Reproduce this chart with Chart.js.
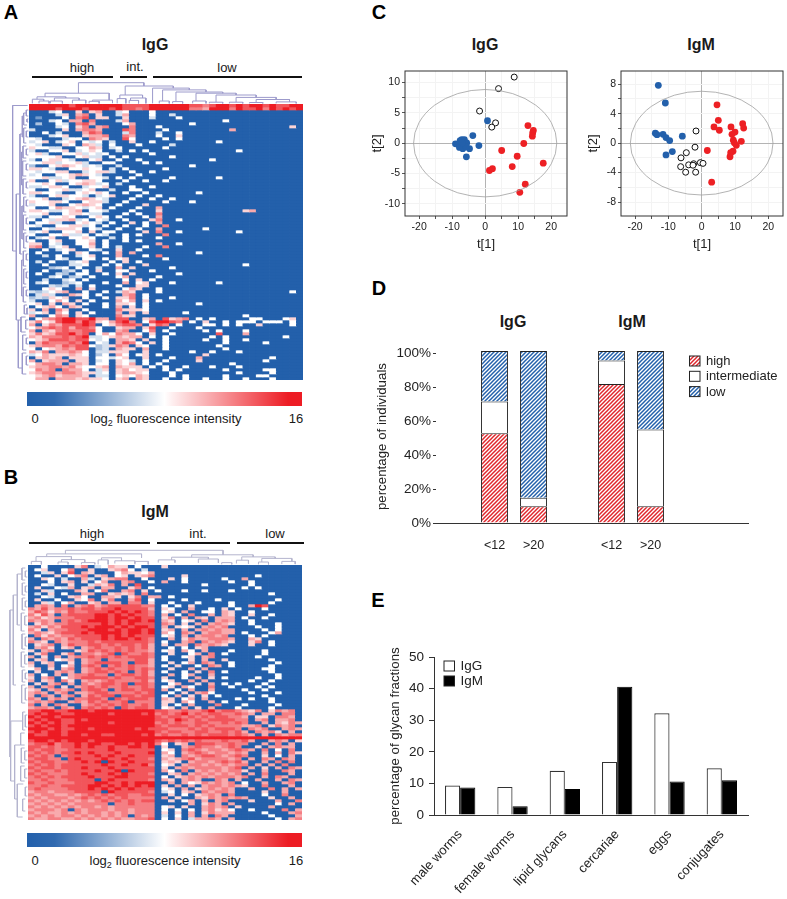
<!DOCTYPE html>
<html>
<head>
<meta charset="utf-8">
<script src="https://cdn.jsdelivr.net/npm/chart.js@4/dist/chart.umd.min.js"></script>
<style>
  html, body { margin: 0; background: #fff; }
  #page { position: relative; width: 787px; height: 899px; overflow: hidden; font-family: "Liberation Sans", Arial, sans-serif; color: #1a1a1a; }
  canvas { position: absolute; }
  .t { position: absolute; transform: translate(-50%, -50%); white-space: nowrap; font-size: 13px; }
  .title { font-size: 16px; font-weight: bold; }
  .letter { font-size: 20px; font-weight: bold; color: #000; }
  .rule { position: absolute; height: 1.5px; background: #111; }
  sub { font-size: 9px; line-height: 0; }
</style>
</head>
<body>
<div id="page">
  <div class="t letter" style="left:11px;top:12px">A</div>
  <div class="t letter" style="left:11px;top:477px">B</div>
  <div class="t letter" style="left:379px;top:12px">C</div>
  <div class="t letter" style="left:379px;top:288px">D</div>
  <div class="t letter" style="left:378px;top:600px">E</div>

  <div class="t title" style="left:155px;top:45px">IgG</div>
  <div class="t" style="left:82px;top:67px">high</div>
  <div class="t" style="left:135px;top:66px">int.</div>
  <div class="t" style="left:227px;top:67px">low</div>
  <div class="rule" style="left:32px;top:76px;width:81px"></div>
  <div class="rule" style="left:120px;top:76px;width:27px"></div>
  <div class="rule" style="left:153px;top:76px;width:149px"></div>
  <div class="t" style="left:35px;top:418px">0</div>
  <div class="t" style="left:166px;top:418px">log<sub>2</sub> fluorescence intensity</div>
  <div class="t" style="left:296px;top:418px">16</div>

  <div class="t title" style="left:155px;top:512px">IgM</div>
  <div class="t" style="left:92px;top:533px">high</div>
  <div class="t" style="left:198px;top:533px">int.</div>
  <div class="t" style="left:275px;top:533px">low</div>
  <div class="rule" style="left:29px;top:542px;width:121px"></div>
  <div class="rule" style="left:157px;top:542px;width:73px"></div>
  <div class="rule" style="left:237px;top:542px;width:67px"></div>
  <div class="t" style="left:35px;top:860px">0</div>
  <div class="t" style="left:165px;top:860px">log<sub>2</sub> fluorescence intensity</div>
  <div class="t" style="left:296px;top:860px">16</div>

  <div class="t title" style="left:485px;top:45px">IgG</div>
  <div class="t title" style="left:701px;top:45px">IgM</div>
  <div class="t title" style="left:513px;top:322px">IgG</div>
  <div class="t title" style="left:632px;top:322px">IgM</div>
</div>
<script>
// heatmap cells, one string per row, digit = level index, missing trailing cells are level 0
const heatLevels = [0, 3, 5, 6.5, 8, 9.5, 11, 12.5, 14, 16];

const igGRows = [
  '99999989999999888899999988789989899898899',
  '99998999899989887899999977699979889798989',
  '0003400505600340004',
  '0000350670500360004003',
  '0100040780550050003000400',
  '0003406607000360000000000000040',
  '0200430786000046000000004',
  '0000340570670007000400000000000000000005',
  '3000050677600087000040000000006',
  '0040300068700037000300400',
  '0003450056670076000400500',
  '4300034407650084000040400',
  '3450345043403005004000000000400',
  '4300054065304000400003',
  '5443300446503400000040',
  '3004450345400304040000000000000400',
  '4530044534340000004000',
  '4444500453304040000004',
  '3045543004500400400000000004',
  '4455344530044000040400',
  '2004565434300300000000004',
  '5543004454403040000040',
  '4344550034553004004000',
  '3400445654300000400000',
  '4453345004430404000004000000400',
  '5004534455400040040040',
  '4454004565340300000000',
  '3345540034450004004000',
  '4004453345003004400000',
  '5544300454540040040000000400',
  '3004554430345000400400',
  '4450034565430004004004',
  '5445540045530040000040004',
  '3445004565400400050000',
  '4004655434504000400600',
  '5543345604430004000500000000000056',
  '4450045543300040400700',
  '3304454004540400040600',
  '4043556340430040005700400',
  '0445300454304005040600',
  '4300445534040040040070',
  '0043555404300400400600000040',
  '3450044505044000050700400000000400',
  '4004453340430040400070',
  '0345004454003040000400',
  '4004500445040040400000',
  '5504300446040000000600400',
  '6703450045040300040070',
  '0040345004300500400000',
  '0400040540040606000000000400',
  '0030400345000600040700',
  '0000430044040450000040',
  '0304003450004050400',
  '0040003340040400050000000000000040',
  '0002340400300605000004',
  '0040023040500440004',
  '0400320440040505000000400',
  '0003402304000460000400',
  '0030034040000040504',
  '0340023400040060450004000000400',
  '0003230304000400550',
  '0045400605000046500400',
  '3234560040040365000400000000000000000004',
  '0353006540400067040000',
  '2325450040040557040004',
  '3004640504000646050400',
  '4505065040040554040000000400',
  '0456406500040605040',
  '5060750040000755540',
  '3450640504000606050000040',
  '6004760540000755000000000000000040',
  '0467899889660880056085670404000004400045',
  '5745899798546897048998704050040444044404',
  '6057688898045788705870400044040400500004',
  '4678786887400566058004000400000000000000',
  '6065787788400670047040000040400040000000',
  '5756889780464766405004000000800060000000',
  '6577787893345656604040000004040000000040',
  '4568887884340665050040000040040040000000',
  '0687778790430687405040000000040000040',
  '5677687884235760540040000000400000',
  '4045676880230655060040000000040',
  '6570667640335550050000004004000400',
  '3465556540240640450400000050000000',
  '0565605550443450050004000600000000004',
  '6056660550340543040040000500000000040',
  '4677606650440546040400000000004',
  '5667767544560655504040040004000400000',
  '4767076640350564550040400000040000044',
  '5677677655340566540004000000000400004',
  '4567566650330454650004040000040000440',
  '4660666565540560650040040040040040004'
];

const igMRows = [
  '00400005703465504000500',
  '04500470050056740300000000000000000',
  '00350580650004655460000000000000000000',
  '04005046705604505670000500000000004',
  '00540300630567700400050400000400600',
  '00040560504600670040600400000040040000',
  '00430050036570608000000000400000040000',
  '05004360560660057040000000000000404',
  '00530006504700670504000400400040000',
  '03050400660056560700000000000000000040',
  '00430056400665057066040000000000000',
  '05004005470570068040000400004000000004',
  '00530460056066077050040004000040000040',
  '06760706786788888770404050000040069800',
  '76867787887889888860540060040504000400',
  '68757687788898989870450600440650040000',
  '75860788889989898870604070060650050040',
  '67567778889989989880570606506660400400',
  '76760787899989899890650450706760040000',
  '05767788888989898880760506067650040004',
  '67576888989998989980605450676700004004',
  '75067788899989899890560606767660000404',
  '67657888989999899890640760677660400046',
  '07576778888989898880450606776700040400',
  '60767687888989989870060576677760065000',
  '76507677787888888870400670767650057040',
  '05670687788787887860506607676500050040',
  '06750560678778787860040405600000000000',
  '50670005687878787760450640600040000400',
  '05700570776780877870050046070400000400',
  '60506067787878788870400450670000004000',
  '05604560677077778860400050600500000040',
  '60560050678888708860050460760040000004',
  '50060460787078787760405004076040000040',
  '46050670678787787870050060600000000440',
  '05006760678878707860400405070400000040',
  '60406067787707887860060460060000000004',
  '50670467888878778870500406050400004004',
  '60560750676787777860450060600000040040',
  '05067060767887808870046005060404000400',
  '60670506787877877870450640070040004040',
  '56067670788707887880604060060000400400',
  '67606706678877778780040506740000040004',
  '60760670687880887880406050504000000400',
  '76067607788708788870650460600004040040',
  '67670067687877807770550640060400000040',
  '70607600678787877870504060007000400004',
  '67760760787870878870450605060004000040',
  '88998899989999999998877877897887657057670',
  '89899889999989999897878978788778760660770',
  '98998999999999999998788787878877605507760',
  '89899889899999999998879878788887706706670',
  '98989889999989999997878778877878700606576',
  '89899899999999999998788878787777667057670',
  '99989889989999998988877787878887076700676',
  '89899899999999999998788778877878607675060',
  '98899899899889999897877878788878760607677',
  '99999999999999999999999999999999999999999',
  '89989899989999999998787878777877860067605',
  '78897889899889989897405608887787700607060',
  '88787889898898899890500678776787005067660',
  '87887788888898888880450787677678760704070',
  '78787889898889888890640678767767600606075',
  '87870788889898898880560767887678700504060',
  '78877089888988988870656786777767060760760',
  '87887788989098898880565067767878600607070',
  '78787888888988988970450677676767706060700',
  '87887888988898888880506767777678060506076',
  '78778788889889098880640706767677500600760',
  '87877788988898988870056067676767060700060',
  '78787888898889988880405676767776700607600',
  '77877788880898888870650676007606006006076',
  '87787778889988989990060645767670400600670',
  '77877888899898989890506060677676500700060',
  '78777788898989898880450605676760060070606',
  '67767778888098888870340560767760000500600',
  '76776676787878877880050405676070000400700',
  '67677767878787877770605006576767600050060',
  '76767676767878787880050460606700050006007',
  '67676767777707787770000060576060000004060',
  '76767676776767777770450500676705000060000',
  '67776707677767767770404040675640040000706',
  '76766767677676767770505060576660000400067',
  '67676776767676707670304060607600000040006',
  '76677667676767667780405036676060000004067'
];

// dendrogram links: from, to, height, height at from, height at to
const igGTopTree = [
  [7.4,17.2,-7.1,-3.6,-6], [2.4,12,-3.6,-2.4,-1.3], [1.2,5.5,-2.4,-1.6,-2],
  [0.5,2.2,-1.6,-0.2,-1], [1.5,3,-1,-0.2,-0.2], [3.8,7.5,-2,-1,-1.3], [3.2,5,-1,-0.2,-0.2],
  [6.5,8.5,-1.3,-0.2,-0.2], [9.5,12.5,-1.3,-0.9,-0.3], [9,10.5,-0.9,-0.2,-0.2],
  [14.4,21.6,-6,-3,-5.3], [13.6,17,-3,-1.8,-2], [13.2,14.5,-1.8,-0.2,-0.2],
  [15.2,17.5,-2,-1.2,-0.2], [15,16.4,-1.2,-0.2,-0.2], [18.5,24,-5.3,-0.2,-4.7],
  [20,26.5,-4.7,-1,-4], [19.5,21,-1,-0.2,-0.2], [22,29,-4,-0.8,-3.6],
  [21.5,23,-0.8,-0.2,-0.2], [25,31,-3.6,-1,-3], [24.5,26.5,-1,-0.2,-0.2],
  [28,34,-3,-0.6,-2.2], [27,29,-0.6,-0.2,-0.2], [31,37,-2.2,-0.6,-1.5],
  [30,32,-0.6,-0.2,-0.2], [34,39,-1.5,-0.5,-0.7], [33,35,-0.5,-0.2,-0.2], [37,40,-0.7,-0.2,-0.2]
];
const igGLeftTree = [
  [0.5,49,-2.45,-0.2,-1.9], [30,72,-1.9,-1.35,-1.6], [10,50,-1.35,-0.8,-1],
  [3,7,-0.8,-0.3,-0.3], [8,13,-0.8,-0.4,-0.4], [14,18,-0.9,-0.4,-0.4], [19,24,-0.95,-0.4,-0.4],
  [25,30,-0.9,-0.4,-0.4], [31,36,-0.8,-0.4,-0.4], [37,42,-0.85,-0.4,-0.4], [43,48,-0.8,-0.4,-0.4],
  [49,54,-0.85,-0.4,-0.4], [55,60,-0.8,-0.4,-0.4], [61,66,-0.85,-0.4,-0.4], [67,70,-0.7,-0.3,-0.3],
  [72,88,-1.6,-1.2,-1], [71,76,-1.2,-0.5,-0.5], [77,82,-0.95,-0.4,-0.4], [83,90,-1,-0.4,-0.4],
  [4,11,-1,-0.8,-0.8], [16,27,-1.1,-0.9,-0.9], [34,45,-1.05,-0.8,-0.85], [52,64,-1.1,-0.85,-0.85],
  [2,4,-0.4,-0.1,-0.1], [5,6,-0.3,-0.1,-0.1], [9,11,-0.4,-0.1,-0.1], [15,17,-0.4,-0.1,-0.1],
  [20,22,-0.4,-0.1,-0.1], [26,28,-0.4,-0.1,-0.1], [32,34,-0.4,-0.1,-0.1], [38,40,-0.4,-0.1,-0.1],
  [44,46,-0.4,-0.1,-0.1], [50,52,-0.4,-0.1,-0.1], [56,58,-0.4,-0.1,-0.1], [62,64,-0.4,-0.1,-0.1],
  [68,70,-0.3,-0.1,-0.1], [72,75,-0.5,-0.1,-0.1], [78,80,-0.4,-0.1,-0.1], [84,87,-0.4,-0.1,-0.1]
];
const igMTopTree = [
  [5.6,29.2,-4.9,-3.7,-3.4], [2.8,17,-3.7,-2.8,-2.4], [1.2,6.5,-2.8,-1.2,-1.8],
  [0.5,2,-1.2,-0.2,-0.2], [5,8.5,-1.8,-1,-0.8], [4.5,6,-1,-0.2,-0.2], [8,10,-0.8,-0.2,-0.2],
  [11,14,-2.4,-1.7,-1.4], [10.5,12,-1.7,-0.2,-0.2], [13,16,-1.4,-0.5,-0.5], [16,18,-1.2,-0.2,-0.2],
  [24.5,33.7,-3.4,-2.6,-2.7], [21.5,27,-2.6,-1.7,-2], [19.5,22,-1.7,-0.8,-0.8],
  [25.5,28.5,-2,-0.7,-0.7], [29,30.5,-0.8,-0.2,-0.2], [32,37,-2.7,-1.6,-2.2],
  [31.2,33,-1.6,-0.5,-0.5], [35,39.5,-2.2,-1,-1.2], [34.5,36,-1,-0.2,-0.2], [38,40,-1.2,-0.3,-0.3]
];
const igMLeftTree = [
  [15,64,-2.7,-2.2,-2.6], [10,40,-2.2,-1.6,-1.8], [3,20,-1.6,-0.9,-1.2],
  [1,5,-0.9,-0.4,-0.4], [6,10,-0.85,-0.4,-0.4], [11,15,-0.85,-0.4,-0.4], [16,22,-1,-0.5,-0.5],
  [23,28,-0.9,-0.4,-0.4], [29,34,-1,-0.5,-0.5], [35,39,-0.85,-0.4,-0.4], [40,46,-0.95,-0.4,-0.4],
  [52,72,-2.6,-0.8,-2], [49,55,-0.8,-0.4,-0.4], [60,78,-2,-1.1,-1.6], [56,60,-1.1,-0.5,-0.5],
  [61,66,-1,-0.5,-0.5], [67,72,-1.1,-0.5,-0.5], [73,84,-1.6,-0.7,-0.8], [78,82,-0.8,-0.4,-0.4],
  [2,4,-0.4,-0.1,-0.1], [7,9,-0.4,-0.1,-0.1], [12,14,-0.4,-0.1,-0.1], [17,20,-0.5,-0.1,-0.1],
  [24,27,-0.4,-0.1,-0.1], [30,33,-0.5,-0.1,-0.1], [36,38,-0.4,-0.1,-0.1], [41,45,-0.4,-0.1,-0.1],
  [50,54,-0.4,-0.1,-0.1], [62,65,-0.5,-0.1,-0.1], [68,71,-0.5,-0.1,-0.1], [74,77,-0.4,-0.1,-0.1]
];

// panel C scores
const igGRedT = [[12.96,2.9],[14.6,2.1],[14.4,1.7],[14.3,1.15],[11.7,-0.05],[5,-1.2],[9.7,-2.15],[8.2,-3.85],[17.6,-3.3],[2.2,-4.2],[1.3,-4.5],[12.15,-6.75],[10.5,-8.1]];
const igGOpenT = [[8.8,10.9],[4.05,9],[-1.7,5.3],[3.15,3.35],[2,2.65]];
const igGBlueT = [[0.7,3.7],[-3.75,1.25],[-1.9,-0.4],[-5.7,-2.25],[-4.75,-0.9],[-9,-0.1],[-8.2,-0.15],[-7.6,0.4],[-7.1,0.6],[-6.3,0.6],[-7.4,-0.4],[-6.8,-0.9],[-6.3,-0.15],[-5.6,0.05],[-7.8,-0.7],[-5.8,-0.6],[-7,0.05]];
const igMRedT = [[4.6,5.2],[5,3.1],[3.7,2.2],[5.3,1.75],[8.8,2.2],[12.3,2.65],[12.6,2.05],[10,1.5],[9.1,1.2],[9.5,0.4],[11.9,0.25],[9.8,0.05],[10.4,-0.3],[1.7,-1],[9.4,-1.1],[8.7,-1.3],[8.5,-1.85],[3,-5.3]];
const igMOpenT = [[-1.7,1.65],[-2,-0.55],[-4.6,-1.3],[-6.2,-2],[-6.3,-3.2],[-3.9,-2.95],[-2.4,-2.8],[-2.6,-3],[-4.8,-3.95],[-1.8,-3.95],[-0.4,-2.65],[0.4,-2.75]];
const igMBlueT = [[-13,7.85],[-10.9,5.45],[-13.9,1.35],[-13.4,1.15],[-11.6,1.2],[-10.7,0.75],[-9.6,0.35],[-5.8,0.95],[-8.8,-1.15],[-10.7,-1.6]];
const igGEllipse = [21.7, 8.85];
const igMEllipse = [21.4, 7.05];

// panel D
const ageLabels = ['', '<12', '>20', '', '<12', '>20', '', ''];
const highShare = [null, 52.9, 9.9, null, 82, 9.9, null, null];
const intermediateShare = [null, 18.8, 5, null, 13.9, 45.3, null, null];
const lowShare = [null, 29.7, 86.5, null, 5.5, 46.2, null, null];

// panel E
const fractionLabels = ['male worms', 'female worms', 'lipid glycans', 'cercariae', 'eggs', 'conjugates'];
const igGFractions = [9.3, 8.9, 14, 16.8, 32.2, 14.8];
const igMFractions = [8.7, 2.8, 8.2, 40.6, 10.6, 11];

const colorbarRange = [16];

const BLUE = [35, 96, 171], RED = [237, 28, 36];
const BLUE_CSS = 'rgb(35,96,171)', RED_CSS = 'rgb(237,32,36)';

Chart.defaults.font.family = '"Liberation Sans", Arial, sans-serif';
Chart.defaults.color = '#222';
Chart.defaults.animation = false;
Chart.defaults.responsive = false;
Chart.defaults.events = [];
Chart.defaults.plugins.legend.display = false;
Chart.defaults.plugins.tooltip.enabled = false;

function addCanvas(left, top, width, height) {
  const c = document.createElement('canvas');
  c.width = width;
  c.height = height;
  c.style.left = left + 'px';
  c.style.top = top + 'px';
  c.style.width = width + 'px';
  c.style.height = height + 'px';
  document.getElementById('page').appendChild(c);
  return c;
}

function heatColor(v) {
  const t = v / 16;
  const from = t < 0.5 ? BLUE : [255, 255, 255];
  const to = t < 0.5 ? [255, 255, 255] : RED;
  const k = t < 0.5 ? t * 2 : (t - 0.5) * 2;
  const c = from.map((a, i) => Math.round(a + (to[i] - a) * k));
  return `rgb(${c[0]},${c[1]},${c[2]})`;
}

function drawHeatmap(rows, left, top, width, height) {
  const nCols = 41;
  const columns = Array.from({ length: nCols }, (_, i) => i);
  const datasets = rows.map(row => ({
    data: columns.map(() => 1),
    backgroundColor: columns.map(i => heatColor(heatLevels[+(row[i] || 0)])),
    borderWidth: 0,
    barPercentage: 1,
    categoryPercentage: 1
  }));
  new Chart(addCanvas(left, top, width, height), {
    type: 'bar',
    data: { labels: columns, datasets },
    options: {
      scales: {
        x: { stacked: true, display: false },
        y: { stacked: true, display: false, reverse: true, min: 0, max: rows.length }
      }
    }
  });
}

function treeSegments(links, swap) {
  const pts = [];
  links.forEach(([a, b, h, ha, hb]) => {
    [[a, ha], [a, h], [b, h], [b, hb]].forEach(([p, q]) => {
      pts.push(swap ? { x: q, y: p } : { x: p, y: q });
    });
    pts.push({ x: NaN, y: NaN });
  });
  return pts;
}

function drawTrees(topTree, leftTree, color, left, top, width, height, heatLeft, heatTop, colW, rowH) {
  new Chart(addCanvas(left, top, width, height), {
    type: 'scatter',
    data: {
      datasets: [treeSegments(topTree, false), treeSegments(leftTree, true)].map(pts => ({
        data: pts,
        showLine: true,
        spanGaps: false,
        pointRadius: 0,
        borderColor: color,
        borderWidth: 1
      }))
    },
    options: {
      scales: {
        x: { type: 'linear', display: false, min: (left - heatLeft) / colW, max: (left + width - heatLeft) / colW },
        y: { type: 'linear', display: false, reverse: true, min: (top - heatTop) / rowH, max: (top + height - heatTop) / rowH }
      }
    }
  });
}

function drawColorbar(left, top, width, height) {
  new Chart(addCanvas(left, top, width, height), {
    type: 'bar',
    data: {
      labels: ['intensity'],
      datasets: [{
        data: colorbarRange,
        barPercentage: 1,
        categoryPercentage: 1,
        backgroundColor(ctx) {
          const area = ctx.chart.chartArea;
          if (!area) return BLUE_CSS;
          const g = ctx.chart.ctx.createLinearGradient(area.left, 0, area.right, 0);
          g.addColorStop(0, heatColor(0));
          g.addColorStop(0.1, heatColor(0.5));
          g.addColorStop(0.5, heatColor(8));
          g.addColorStop(0.53, heatColor(8.6));
          g.addColorStop(0.95, heatColor(16));
          g.addColorStop(1, heatColor(16));
          return g;
        }
      }]
    },
    options: {
      indexAxis: 'y',
      scales: { x: { display: false, min: 0, max: 16 }, y: { display: false } }
    }
  });
}

// ellipse and box round the score plots
const scoreFrame = {
  id: 'scoreFrame',
  afterDatasetsDraw(chart, args, opts) {
    const { ctx, chartArea: a, scales: { x, y } } = chart;
    ctx.save();
    ctx.strokeStyle = '#a0a0a0';
    ctx.lineWidth = 0.8;
    ctx.beginPath();
    ctx.ellipse(x.getPixelForValue(0), y.getPixelForValue(0),
      x.getPixelForValue(opts.radii[0]) - x.getPixelForValue(0),
      y.getPixelForValue(0) - y.getPixelForValue(opts.radii[1]), 0, 0, Math.PI * 2);
    ctx.stroke();
    ctx.strokeStyle = '#333';
    ctx.lineWidth = 1;
    ctx.strokeRect(a.left, a.top, a.right - a.left, a.bottom - a.top);
    ctx.restore();
  }
};

function scoreDataset(points, fill, line, radius) {
  return {
    data: points.map(([x, y]) => ({ x, y })),
    backgroundColor: fill,
    borderColor: line,
    borderWidth: line === fill ? 0 : 1,
    pointRadius: radius
  };
}

function drawScores(left, red, open, blue, radii, xRange, yRange, yStep, yLabelStep, plotLeft) {
  const width = 205, height = 192;
  const grid = {
    color: c => (c.tick && c.tick.value === 0 ? '#b4b4b4' : '#f3f3f3'),
    tickColor: '#555',
    tickLength: 3,
    lineWidth: 1
  };
  new Chart(addCanvas(left, 60, width, height), {
    type: 'scatter',
    plugins: [scoreFrame],
    data: {
      datasets: [
        scoreDataset(open, '#fff', '#111', 3),
        scoreDataset(blue, BLUE_CSS, BLUE_CSS, 3.4),
        scoreDataset(red, RED_CSS, RED_CSS, 3.4)
      ]
    },
    options: {
      layout: { padding: { top: 11, right: width - plotLeft - 162 } },
      plugins: { scoreFrame: { radii } },
      scales: {
        x: {
          min: xRange[0], max: xRange[1],
          grid,
          border: { display: false },
          afterFit(s) { s.height = 36; },
          ticks: { stepSize: 5, maxRotation: 0, autoSkip: false, includeBounds: false, padding: 2, font: { size: 10.5 },
            callback: v => (v % 10 === 0 ? v : '') },
          title: { display: true, text: 't[1]', font: { size: 13 }, padding: { top: 0, bottom: 0 } }
        },
        y: {
          min: yRange[0], max: yRange[1],
          grid,
          border: { display: false },
          afterFit(s) { s.width = plotLeft; },
          ticks: { stepSize: yStep, autoSkip: false, includeBounds: false, padding: 2, font: { size: 10.5 },
            callback: v => (v % yLabelStep === 0 ? v : '') },
          title: { display: true, text: 't[2]', font: { size: 13 }, padding: { top: 0, bottom: 0 } }
        }
      }
    }
  });
}

function hatch(color) {
  const tile = document.createElement('canvas');
  tile.width = tile.height = 4;
  const g = tile.getContext('2d');
  g.fillStyle = '#fff';
  g.fillRect(0, 0, 4, 4);
  g.strokeStyle = color;
  g.lineWidth = 1.5;
  [[-1, 1, 1, -1], [0, 4, 4, 0], [3, 5, 5, 3]].forEach(([a, b, c, d]) => {
    g.beginPath();
    g.moveTo(a, b);
    g.lineTo(c, d);
    g.stroke();
  });
  return document.createElement('canvas').getContext('2d').createPattern(tile, 'repeat');
}

// legend sitting inside the plot, built from the chart's own datasets
const insideLegend = {
  id: 'insideLegend',
  afterDraw(chart, args, opts) {
    const { ctx } = chart;
    ctx.save();
    ctx.font = `${opts.fontSize}px "Liberation Sans"`;
    ctx.textBaseline = 'middle';
    opts.order.forEach((dsIndex, i) => {
      const ds = chart.data.datasets[dsIndex];
      const y = opts.y + i * opts.gap;
      ctx.fillStyle = ds.backgroundColor;
      ctx.fillRect(opts.x, y, 10.5, 10);
      ctx.strokeStyle = '#222';
      ctx.lineWidth = 1;
      ctx.strokeRect(opts.x, y, 10.5, 10);
      ctx.fillStyle = '#222';
      ctx.fillText(ds.label, opts.textX, y + 5.5);
    });
    ctx.restore();
  }
};

function drawPanelD() {
  const ds = (label, data, backgroundColor) => ({
    label, data, backgroundColor, borderColor: '#222', borderWidth: 1, barPercentage: 0.69, categoryPercentage: 1
  });
  new Chart(addCanvas(370, 340, 417, 215), {
    type: 'bar',
    plugins: [insideLegend],
    data: {
      labels: ageLabels,
      datasets: [
        ds('high', highShare, hatch('#e0262c')),
        ds('intermediate', intermediateShare, '#fff'),
        ds('low', lowShare, hatch('#2360ab'))
      ]
    },
    options: {
      layout: { padding: { top: 8, right: 39 } },
      plugins: { insideLegend: { order: [0, 1, 2], x: 319.5, y: 16, gap: 15.3, textX: 336, fontSize: 13 } },
      scales: {
        x: {
          stacked: true,
          grid: { display: false },
          border: { color: '#333', width: 1 },
          afterFit(s) { s.height = 32; },
          ticks: { padding: 7, maxRotation: 0, autoSkip: false, font: { size: 12.5 } }
        },
        y: {
          stacked: true,
          min: 0, max: 102,
          border: { display: false },
          grid: { drawOnChartArea: false, color: '#333', tickLength: 3 },
          afterFit(s) { s.width = 66; },
          ticks: { stepSize: 20, includeBounds: false, padding: 2, font: { size: 13.5 }, callback: v => v + '%' },
          title: { display: true, text: 'percentage of individuals', font: { size: 13.3 }, padding: { top: 4, bottom: 0 } }
        }
      }
    }
  });
}

function drawPanelE() {
  new Chart(addCanvas(370, 640, 417, 259), {
    type: 'bar',
    plugins: [insideLegend],
    data: {
      labels: fractionLabels,
      datasets: [
        { label: 'IgG', data: igGFractions, backgroundColor: '#fff', borderColor: '#333', borderWidth: 1.2, barPercentage: 1, categoryPercentage: 0.58 },
        { label: 'IgM', data: igMFractions, backgroundColor: '#000', borderColor: '#000', borderWidth: 1, barPercentage: 1, categoryPercentage: 0.58 }
      ]
    },
    options: {
      layout: { padding: { top: 17, right: 39 } },
      plugins: { insideLegend: { order: [0, 1], x: 74, y: 21, gap: 15, textX: 90.5, fontSize: 13.5 } },
      scales: {
        x: {
          grid: { display: false },
          border: { color: '#333', width: 1 },
          afterFit(s) { s.height = 84; },
          ticks: { padding: 4, minRotation: 47, maxRotation: 47, autoSkip: false, font: { size: 13 } }
        },
        y: {
          min: 0, max: 50,
          border: { color: '#333', width: 1 },
          grid: { drawOnChartArea: false, color: '#333', tickLength: 5 },
          afterFit(s) { s.width = 64; },
          ticks: { stepSize: 10, padding: 5, font: { size: 13.5 } },
          title: { display: true, text: 'percentage of glycan fractions', font: { size: 13.3 }, padding: { top: 17, bottom: 0 } }
        }
      }
    }
  });
}

drawHeatmap(igGRows, 29, 104, 274, 276);
drawTrees(igGTopTree, igGLeftTree, '#9c9acb', 8, 78, 297, 303, 29, 104, 6.68, 3);
drawColorbar(27, 392, 275, 14);

drawHeatmap(igMRows, 28, 565, 274, 255);
drawTrees(igMTopTree, igMLeftTree, '#b4b4ce', 6, 548, 298, 274, 28, 565, 6.68, 3);
drawColorbar(27, 833, 275, 14);

drawScores(370, igGRedT, igGOpenT, igGBlueT, igGEllipse, [-24.3, 24.8], [-12, 11.9], 2.5, 5, 35);
drawScores(586, igMRedT, igMOpenT, igMBlueT, igMEllipse, [-24.2, 24.4], [-9.9, 9.8], 2, 4, 35);
drawPanelD();
drawPanelE();
</script>
</body>
</html>
